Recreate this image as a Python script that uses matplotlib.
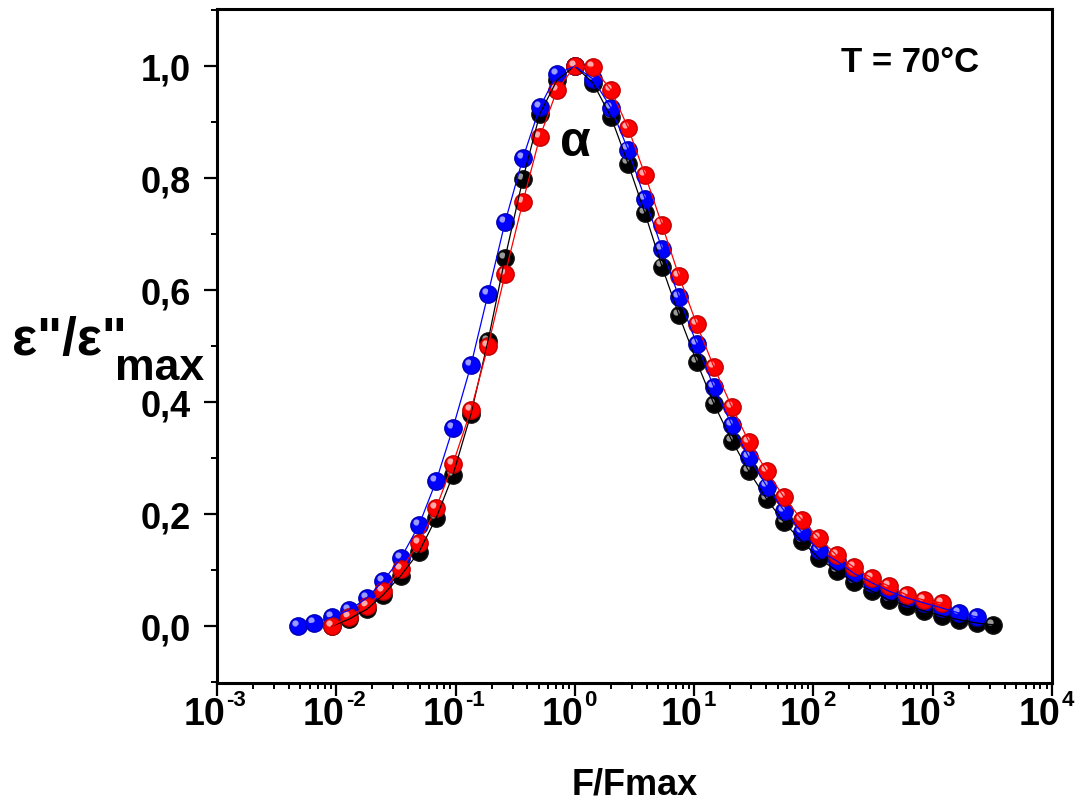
import numpy as np
import matplotlib
matplotlib.use("Agg")
import matplotlib.pyplot as plt
from matplotlib.ticker import LogLocator, MultipleLocator, FixedLocator, NullFormatter
from matplotlib.transforms import offset_copy

# normalised frequency grid (F/Fmax)
f_grid = [0.00477, 0.0065, 0.0092, 0.01276, 0.0181, 0.0246, 0.0348, 0.0493, 0.0685, 0.0951,
          0.1346, 0.187, 0.2596, 0.367, 0.509, 0.708, 1.0, 1.418, 2.01, 2.79,
          3.87, 5.37, 7.46, 10.5, 14.6, 20.7, 28.8, 40.7, 56.6, 80.1,
          111, 157, 218, 309, 430, 608, 844, 1194, 1660, 2350, 3200]

blue_x = f_grid[0:40]
blue_y = [0.0, 0.005, 0.016, 0.028, 0.050, 0.080, 0.121, 0.180, 0.258, 0.354,
          0.466, 0.593, 0.721, 0.836, 0.927, 0.986, 1.0, 0.977, 0.925, 0.851,
          0.763, 0.674, 0.587, 0.504, 0.427, 0.359, 0.301, 0.249, 0.206, 0.167,
          0.135, 0.116, 0.094, 0.077, 0.062, 0.050, 0.041, 0.032, 0.023, 0.016]

red_x = f_grid[2:38]
red_y = [0.0, 0.016, 0.036, 0.062, 0.101, 0.148, 0.210, 0.290, 0.386, 0.500,
         0.628, 0.758, 0.874, 0.957, 1.0, 0.998, 0.957, 0.890, 0.806, 0.717,
         0.625, 0.539, 0.463, 0.391, 0.329, 0.276, 0.230, 0.189, 0.157, 0.126,
         0.105, 0.085, 0.071, 0.055, 0.046, 0.041]

black_x = f_grid[2:41]
black_y = [0.0, 0.012, 0.030, 0.055, 0.090, 0.132, 0.192, 0.270, 0.379, 0.509,
           0.657, 0.799, 0.915, 0.975, 1.0, 0.970, 0.909, 0.826, 0.737, 0.642,
           0.555, 0.472, 0.397, 0.331, 0.276, 0.226, 0.185, 0.151, 0.121, 0.098,
           0.078, 0.062, 0.046, 0.036, 0.027, 0.018, 0.011, 0.005, 0.002]

x_ticks = [1e-3, 1e-2, 1e-1, 1e0, 1e1, 1e2, 1e3, 1e4]
x_exps = ['-3', '-2', '-1', '0', '1', '2', '3', '4']
y_ticks = [0.0, 0.2, 0.4, 0.6, 0.8, 1.0]
y_labels = ['0,0', '0,2', '0,4', '0,6', '0,8', '1,0']

plt.rcParams['font.family'] = ['Liberation Sans', 'DejaVu Sans']
plt.rcParams['font.weight'] = 'bold'

fig = plt.figure(figsize=(10.83, 8.03), dpi=100)
ax = fig.add_axes([0.2004, 0.1482, 0.9714 - 0.2004, 0.9875 - 0.1482])

# sphere-like markers: base ball + small highlight
hl = offset_copy(ax.transData, fig=fig, x=-2.2, y=2.2, units='points')
series = [
    (black_x, black_y, 'black', '#111111', '#9a9a9a'),
    (blue_x, blue_y, 'blue', '#0000b0', '#9a9aff'),
    (red_x, red_y, 'red', '#c00000', '#ffaaaa'),
]
for i, (xs, ys, col, dark, light) in enumerate(series):
    ax.plot(xs, ys, 'o', ms=12.5, mfc=col, mec=dark, mew=1.0, zorder=2 + i)
    ax.plot(xs, ys, 'o', ms=4.5, mfc=light, mec='none', transform=hl, zorder=2 + i)
for xs, ys, col, dark, light in series:
    ax.plot(xs, ys, '-', color=col, lw=0.9, zorder=6)

ax.set_xscale('log')
ax.set_xlim(1e-3, 1e4)
ax.set_ylim(-0.102, 1.102)

ax.xaxis.set_major_locator(FixedLocator(x_ticks))
ax.xaxis.set_minor_locator(LogLocator(base=10, subs=np.arange(2, 10), numticks=20))
ax.xaxis.set_major_formatter(NullFormatter())
ax.xaxis.set_minor_formatter(NullFormatter())
for t, e in zip(x_ticks, x_exps):
    ax.annotate('10', xy=(t, 0), xycoords=('data', 'axes fraction'), xytext=(6, -9.5),
                textcoords='offset points', ha='right', va='top',
                fontsize=27, fontweight='bold', annotation_clip=False)
    ax.annotate(e, xy=(t, 0), xycoords=('data', 'axes fraction'), xytext=(6.8, -4.5),
                textcoords='offset points', ha='left', va='top',
                fontsize=16, fontweight='bold', annotation_clip=False)

ax.set_yticks(y_ticks)
ax.set_yticklabels(y_labels, fontsize=26, fontweight='bold')
ax.yaxis.set_minor_locator(MultipleLocator(0.1))

ax.tick_params(which='major', direction='out', length=9.5, width=1.6, top=False, right=False)
ax.tick_params(which='minor', direction='out', length=4.5, width=1.4, top=False, right=False)
ax.tick_params(axis='y', which='major', pad=9)
for s in ax.spines.values():
    s.set_linewidth(2.2)

fig.text(0.586, 0.022, 'F/Fmax', fontsize=26, fontweight='bold', ha='center', va='center')

fig.text(0.011, 0.558, 'ε"/ε"', fontsize=38, fontweight='bold', va='baseline', ha='left')
fig.text(0.106, 0.527, 'max', fontsize=32, fontweight='bold', va='baseline', ha='left')

fig.text(0.531, 0.822, 'α', fontsize=36, fontweight='bold', ha='center', va='center')
fig.text(0.840, 0.922, 'T = 70°C', fontsize=25, fontweight='bold', ha='center', va='center')

fig.savefig('out.png', dpi=100)
